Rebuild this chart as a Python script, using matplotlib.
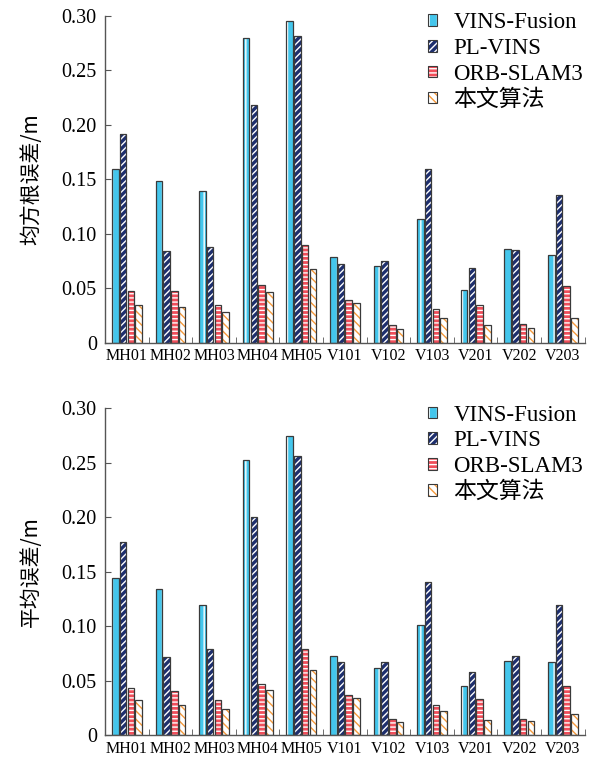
import numpy as np
import matplotlib
matplotlib.use("Agg")
import matplotlib.pyplot as plt
from matplotlib.patches import Patch

plt.rcParams['font.family'] = ['Liberation Serif', 'Noto Sans CJK SC']
plt.rcParams['hatch.linewidth'] = 1.0

sequences = ["MH01", "MH02", "MH03", "MH04", "MH05", "V101", "V102", "V103", "V201", "V202", "V203"]
methods = ["VINS-Fusion", "PL-VINS", "ORB-SLAM3", "本文算法"]

rmse_vins = [0.160, 0.149, 0.139, 0.280, 0.295, 0.079, 0.071, 0.114, 0.049, 0.086, 0.081]
rmse_pl = [0.192, 0.084, 0.088, 0.218, 0.282, 0.072, 0.075, 0.160, 0.069, 0.085, 0.136]
rmse_orb = [0.048, 0.048, 0.035, 0.053, 0.090, 0.039, 0.016, 0.031, 0.035, 0.017, 0.052]
rmse_ours = [0.035, 0.033, 0.028, 0.047, 0.068, 0.037, 0.013, 0.023, 0.016, 0.014, 0.023]

mean_vins = [0.144, 0.134, 0.120, 0.253, 0.275, 0.073, 0.062, 0.101, 0.045, 0.068, 0.067]
mean_pl = [0.177, 0.072, 0.079, 0.200, 0.256, 0.067, 0.067, 0.141, 0.058, 0.073, 0.120]
mean_orb = [0.043, 0.041, 0.032, 0.047, 0.079, 0.037, 0.015, 0.028, 0.033, 0.015, 0.045]
mean_ours = [0.032, 0.028, 0.024, 0.042, 0.060, 0.034, 0.012, 0.022, 0.014, 0.013, 0.020]

yticks = [0, 0.05, 0.10, 0.15, 0.20, 0.25, 0.30]
ytick_labels = ["0", "0.05", "0.10", "0.15", "0.20", "0.25", "0.30"]

# face colour, hatch colour, hatch pattern
styles = [
    ("#44c6ec", "white", "||"),
    ("#1e2f6e", "white", "/////"),
    ("#f04e5a", "white", "----"),
    ("white", "#f59a3c", "\\\\\\\\"),
]
outline = "#3a3a3a"

fig = plt.figure(figsize=(6.04, 7.62), dpi=100)
ax1 = fig.add_axes([0.174, 0.550, 0.794, 0.429])
ax2 = fig.add_axes([0.174, 0.035, 0.794, 0.429])

x = np.arange(len(sequences))
width = 0.15
step = 0.178


def draw(ax, series, ylabel):
    handles = []
    for i, (vals, (fc, hc, hatch)) in enumerate(zip(series, styles)):
        pos = x + (i - 1.5) * step
        ax.bar(pos, vals, width, color=fc, edgecolor=hc, hatch=hatch, linewidth=0)
        ax.bar(pos, vals, width, facecolor="none", edgecolor=outline, linewidth=0.9)
        handles.append((Patch(facecolor=fc, edgecolor=hc, hatch=hatch, linewidth=0),
                        Patch(facecolor="none", edgecolor=outline, linewidth=0.8)))
    ax.set_xlim(-0.5, len(sequences) - 0.5)
    ax.set_ylim(0, 0.30)
    ax.set_yticks(yticks)
    ax.set_yticklabels(ytick_labels, fontsize=14.5, family='Liberation Serif')
    ax.set_xticks(x)
    ax.set_xticklabels(sequences, fontsize=11.5, family='Liberation Serif')
    ax.set_xticks(np.arange(len(sequences) + 1) - 0.5, minor=True)
    ax.tick_params(axis="x", which="major", length=0, pad=4)
    ax.tick_params(axis="x", which="minor", direction="in", length=4, color="#555555")
    ax.tick_params(axis="y", direction="in", length=4, color="#555555", pad=6)
    for s in ["top", "right"]:
        ax.spines[s].set_visible(False)
    for s in ["left", "bottom"]:
        ax.spines[s].set_color("#555555")
        ax.spines[s].set_linewidth(1.0)
    ax.set_ylabel(ylabel, fontsize=15, family=['Noto Sans CJK SC'], labelpad=14)
    ax.legend(handles, methods, loc="upper right", bbox_to_anchor=(1.03, 1.06),
              frameon=False, handlelength=0.4, handleheight=0.4,
              handletextpad=0.7, labelspacing=0.2, borderaxespad=0.3,
              prop={'family': ['Liberation Serif', 'Noto Sans CJK SC'], 'size': 16.5})


draw(ax1, [rmse_vins, rmse_pl, rmse_orb, rmse_ours], "均方根误差/m")
draw(ax2, [mean_vins, mean_pl, mean_orb, mean_ours], "平均误差/m")

fig.savefig("out.png", dpi=100)
